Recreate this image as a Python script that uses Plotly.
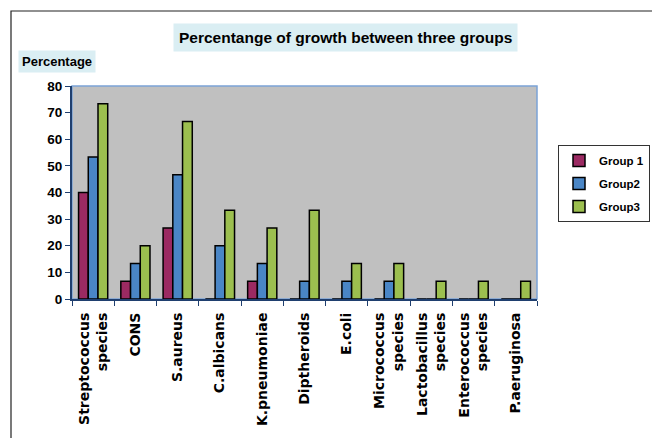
import plotly.graph_objects as go

categories = ["Streptococcus<br>species", "CONS", "S.aureus", "C.albicans", "K.pneumoniae",
              "Diptheroids", "E.coli", "Micrococcus<br>species", "Lactobacillus<br>species",
              "Enterococcus<br>species", "P.aeruginosa"]
group1 = [40, 6.7, 26.7, 0, 6.7, 0, 0, 0, 0, 0, 0]
group2 = [53.3, 13.3, 46.7, 20, 13.3, 6.7, 6.7, 6.7, 0, 0, 0]
group3 = [73.3, 20, 66.7, 33.3, 26.7, 33.3, 13.3, 13.3, 6.7, 6.7, 6.7]
series_names = ["Group 1", "Group2", "Group3"]
series_colors = ["#9B2A62", "#4A86C6", "#9CBF4F"]
y_ticks = [0, 10, 20, 30, 40, 50, 60, 70, 80]

W, H = 652, 438
L, R, T, B = 72, 115, 86, 139
pw, ph = W - L - R, H - T - B


def px(x):
    return (x - L) / pw


def py(y):
    return (H - B - y) / ph


fig = go.Figure()
for name, vals, col in zip(series_names, [group1, group2, group3], series_colors):
    fig.add_trace(go.Bar(x=categories, y=vals, name=name, legendgroup=name,
                         marker=dict(color=col, line=dict(color="#000000", width=1.5))))

arial = "Liberation Sans"

fig.update_layout(
    width=W, height=H,
    margin=dict(l=L, r=R, t=T, b=B),
    paper_bgcolor="#FFFFFF",
    plot_bgcolor="#C0C0C0",
    barmode="group", bargap=0.31, bargroupgap=0,
    showlegend=True,
    legend=dict(xref="container", yref="container", x=558 / W, y=1 - 145 / H,
                xanchor="left", yanchor="top",
                bgcolor="#FFFFFF", bordercolor="#333333", borderwidth=1,
                font=dict(family=arial, size=11.5, color="#000000", weight="bold"),
                tracegroupgap=4, itemwidth=30),
    xaxis=dict(showline=True, linecolor="#1F3F6F", linewidth=2, ticks="outside",
               tickson="boundaries", ticklen=5, tickcolor="#1F3F6F", tickangle=-90,
               ticklabelstandoff=6,
               tickfont=dict(family="DejaVu Sans", size=14, color="#000000", weight="bold"),
               showgrid=False, zeroline=False, fixedrange=True),
    yaxis=dict(range=[0, 80], tickvals=y_ticks, showline=True, linecolor="#1F3F6F",
               linewidth=2, ticks="outside", ticklen=5, tickcolor="#1F3F6F",
               tickfont=dict(family=arial, size=13.5, color="#000000", weight="bold"),
               showgrid=False, zeroline=False, fixedrange=True),
)

# plot-area frame (light blue) and outer chart border
fig.add_shape(type="rect", xref="paper", yref="paper", x0=0, y0=0, x1=1, y1=1,
              line=dict(color="#7BA3D6", width=1.5), layer="below")
fig.add_shape(type="rect", xref="paper", yref="paper", x0=px(11), y0=py(460), x1=px(680), y1=py(11),
              line=dict(color="#222222", width=1.2), layer="below")

fig.add_annotation(text="Percentange of growth between three groups", xref="paper", yref="paper",
                   x=px(345), y=py(37), xanchor="center", yanchor="middle", showarrow=False,
                   font=dict(family=arial, size=15.5, color="#000000", weight="bold"),
                   bgcolor="#DAEEF3", borderpad=5)
fig.add_annotation(text="Percentage", xref="paper", yref="paper",
                   x=px(18), y=py(62), xanchor="left", yanchor="middle", showarrow=False,
                   font=dict(family=arial, size=13, color="#000000", weight="bold"),
                   bgcolor="#DAEEF3", borderpad=3)

fig.write_html("out.html", config={"displayModeBar": False},
               post_script="document.body.style.margin='0';")
